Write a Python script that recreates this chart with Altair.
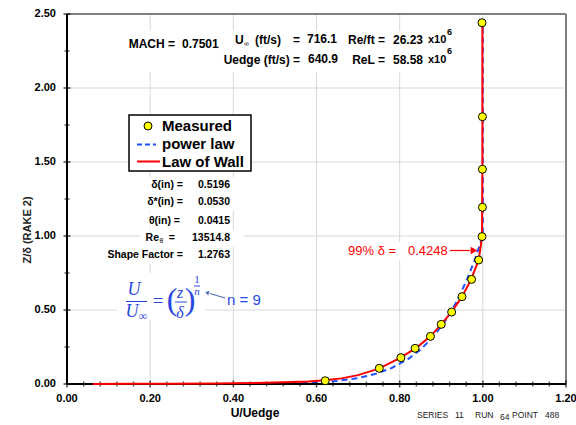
import altair as alt
import pandas as pd

# ---------------- data ----------------
meas_u = [0.621, 0.751, 0.803, 0.837, 0.874, 0.900, 0.925, 0.950, 0.973, 0.990, 0.998, 0.999, 0.999, 0.999, 0.998]
meas_z = [0.022, 0.106, 0.178, 0.241, 0.322, 0.403, 0.486, 0.590, 0.707, 0.838, 0.996, 1.194, 1.451, 1.806, 2.441]

pow_u = [0.42, 0.50, 0.56, 0.60, 0.65, 0.70, 0.74, 0.78, 0.82, 0.85, 0.88, 0.91, 0.935, 0.96, 0.98, 1.0, 1.0]
pow_z = [0.0004, 0.002, 0.0055, 0.010, 0.021, 0.040, 0.067, 0.107, 0.168, 0.232, 0.316, 0.428, 0.546, 0.693, 0.834, 1.0, 2.441]

wall_u = [0.062, 0.15, 0.25, 0.35, 0.45, 0.52, 0.58, 0.62, 0.66, 0.70, 0.75, 0.80, 0.84, 0.874, 0.90, 0.925, 0.95, 0.972, 0.99, 0.998, 0.999, 0.999]
wall_z = [0.0, 0.001, 0.002, 0.004, 0.007, 0.011, 0.017, 0.025, 0.038, 0.060, 0.104, 0.175, 0.244, 0.322, 0.403, 0.487, 0.590, 0.707, 0.838, 0.990, 1.5, 2.441]

x_major = [0.0, 0.2, 0.4, 0.6, 0.8, 1.0, 1.2]
x_labels = ["0.00", "0.20", "0.40", "0.60", "0.80", "1.00", "1.20"]
x_minor = [0.04, 0.08, 0.12, 0.16, 0.24, 0.28, 0.32, 0.36, 0.44, 0.48, 0.52, 0.56,
           0.64, 0.68, 0.72, 0.76, 0.84, 0.88, 0.92, 0.96, 1.04, 1.08, 1.12, 1.16]
y_major = [0.0, 0.5, 1.0, 1.5, 2.0, 2.5]
y_labels = ["0.00", "0.50", "1.00", "1.50", "2.00", "2.50"]
y_minor = [0.25, 0.75, 1.25, 1.75, 2.25]

# ---------------- layout ----------------
OX, OY = 67, 14
W, H = 499, 370
FONT = "Liberation Sans"
SERIF = "Liberation Serif"
BLUE = "#1f4fff"
FBLUE = "#2748e0"
GRID = "#d9d9d9"

xs = alt.Scale(domain=[0, 1.2], nice=False, zero=False)
ys = alt.Scale(domain=[0, 2.5], nice=False, zero=False)


def U(px):
    # page pixel -> U/Uedge (annotation placement only)
    return (px - OX) / W * 1.2


def Z(py):
    return (OY + H - py) / H * 2.5


def XE(field="u"):
    return alt.X(f"{field}:Q", scale=xs, axis=None)


def YE(field="z"):
    return alt.Y(f"{field}:Q", scale=ys, axis=None)


def series_df(u, z):
    return pd.DataFrame({"u": u, "z": z, "i": list(range(len(u)))})


def boxes(rows, stroke=None, sw=0):
    df = pd.DataFrame(rows, columns=["x1", "y1", "x2", "y2"])
    df["u"] = df["x1"].map(U); df["u2"] = df["x2"].map(U)
    df["z"] = df["y1"].map(Z); df["z2"] = df["y2"].map(Z)
    kw = dict(fill="white")
    if stroke:
        kw.update(stroke=stroke, strokeWidth=sw)
    else:
        kw.update(strokeWidth=0)
    return alt.Chart(df).mark_rect(**kw).encode(x=XE(), x2="u2:Q", y=YE(), y2="z2:Q")


def rules(rows, color, width, dash=None):
    df = pd.DataFrame(rows, columns=["x1", "y1", "x2", "y2"])
    df["u"] = df["x1"].map(U); df["u2"] = df["x2"].map(U)
    df["z"] = df["y1"].map(Z); df["z2"] = df["y2"].map(Z)
    kw = dict(color=color, strokeWidth=width)
    if dash:
        kw["strokeDash"] = dash
    return alt.Chart(df).mark_rule(**kw).encode(x=XE(), x2="u2:Q", y=YE(), y2="z2:Q")


def texts(rows, align="left", weight="bold", font=FONT, style="normal", color="black", angle=0):
    df = pd.DataFrame(rows, columns=["t", "x", "y", "fs"])
    df["u"] = df["x"].map(U)
    df["z"] = df["y"].map(Z)
    return alt.Chart(df).mark_text(align=align, baseline="middle", font=font, fontWeight=weight,
                                   fontStyle=style, color=color, angle=angle).encode(
        x=XE(), y=YE(), text="t:N", size=alt.Size("fs:Q", scale=None, legend=None))


def marker(x, y, **kw):
    df = pd.DataFrame({"u": [U(x)], "z": [Z(y)]})
    return alt.Chart(df).mark_point(opacity=1, **kw).encode(x=XE(), y=YE())


# ---------------- grid, axes ----------------
n_x, n_y = len(x_major), len(y_major)
grid_v = alt.Chart(pd.DataFrame({"u": x_major, "z": [0.0] * n_x, "z2": [2.5] * n_x})).mark_rule(
    color=GRID, strokeWidth=1).encode(x=XE(), y=YE(), y2="z2:Q")
grid_h = alt.Chart(pd.DataFrame({"z": y_major, "u": [0.0] * n_y, "u2": [1.2] * n_y})).mark_rule(
    color=GRID, strokeWidth=1).encode(x=XE(), x2="u2:Q", y=YE())
x_dom = alt.Chart(pd.DataFrame({"u": [0.0], "u2": [1.2], "z": [0.0]})).mark_rule(
    color="black", strokeWidth=2).encode(x=XE(), x2="u2:Q", y=YE())
y_dom = alt.Chart(pd.DataFrame({"u": [0.0], "z": [0.0], "z2": [2.5]})).mark_rule(
    color="black", strokeWidth=2).encode(x=XE(), y=YE(), y2="z2:Q")
frame = rules([(OX, OY, OX + W, OY), (OX + W, OY, OX + W, OY + H)], "#7f7f7f", 2)

xt_major = alt.Chart(pd.DataFrame({"u": x_major, "z": [0.0] * n_x})).mark_tick(
    orient="vertical", size=7, thickness=1.5, color="black").encode(x=XE(), y=YE())
xt_minor = alt.Chart(pd.DataFrame({"u": x_minor, "z": [0.0] * len(x_minor)})).mark_tick(
    orient="vertical", size=5, thickness=1.3, color="black").encode(x=XE(), y=YE())
yt_major = alt.Chart(pd.DataFrame({"z": y_major, "u": [0.0] * n_y})).mark_tick(
    orient="horizontal", size=7, thickness=1.5, color="black").encode(x=XE(), y=YE())
yt_minor = alt.Chart(pd.DataFrame({"z": y_minor, "u": [0.0] * len(y_minor)})).mark_tick(
    orient="horizontal", size=5, thickness=1.3, color="black").encode(x=XE(), y=YE())

x_lab = alt.Chart(pd.DataFrame({"u": x_major, "z": [Z(399)] * n_x, "t": x_labels})).mark_text(
    align="center", baseline="middle", font=FONT, fontWeight="bold", fontSize=11, color="black").encode(
    x=XE(), y=YE(), text="t:N")
y_lab = alt.Chart(pd.DataFrame({"z": y_major, "u": [U(56)] * n_y, "t": y_labels})).mark_text(
    align="right", baseline="middle", font=FONT, fontWeight="bold", fontSize=11, color="black").encode(
    x=XE(), y=YE(), text="t:N")
x_title = texts([("U/Uedge", 255, 413, 12)], align="center")
y_title = texts([("Z/δ (RAKE 2)", 28, 230, 11)], align="center", angle=270, color="#222222")

# ---------------- data layers ----------------
power = alt.Chart(series_df(pow_u, pow_z)).mark_line(color=BLUE, strokeWidth=2, strokeDash=[6, 4]).encode(
    x=XE(), y=YE(), order="i:Q")
wall = alt.Chart(series_df(wall_u, wall_z)).mark_line(color="#ff0000", strokeWidth=2).encode(
    x=XE(), y=YE(), order="i:Q")
meas = alt.Chart(series_df(meas_u, meas_z)).mark_point(filled=True, fill="#ffff00", stroke="black",
                                                        strokeWidth=1, size=64, opacity=1).encode(
    x=XE(), y=YE())

# ---------------- annotation backgrounds ----------------
white = boxes([
    (120, 31, 462, 72),
    (144, 177, 236, 194), (139, 194, 236, 211), (150, 212, 232, 229),
    (140, 230, 244, 247), (108, 247, 232, 264),
    (117, 273, 205, 320),
    (345, 242, 452, 260),
])
legend_box = boxes([(129, 115, 251, 171)], stroke="black", sw=1.5)

# ---------------- legend ----------------
leg_pt = marker(148, 126, filled=True, fill="#ffff00", stroke="black", strokeWidth=1, size=64)
leg_blue = rules([(137, 144.5, 156, 144.5)], BLUE, 2, [5, 3])
leg_red = rules([(137, 161.5, 160, 161.5)], "#ff0000", 2)
leg_txt = texts([("Measured", 162, 126, 15), ("power law", 162, 144, 15), ("Law of Wall", 162, 161.5, 15)])

# ---------------- header texts ----------------
head_left = texts([
    ("0.7501", 182, 43.5, 12), ("U", 235, 40, 12), ("(ft/s)", 255, 40, 12), ("716.1", 307, 39, 12),
    ("26.23", 393, 40, 12), ("640.9", 308, 58.5, 12), ("58.58", 393, 60, 12),
    ("x10", 428, 40, 11), ("x10", 428, 60, 11),
    ("6", 447, 32, 9), ("6", 447, 51, 9),
])
head_right = texts([
    ("MACH =", 175, 43.5, 12), ("=", 300, 40, 12), ("Re/ft =", 385, 40, 12),
    ("Uedge (ft/s) =", 300, 60, 12), ("ReL =", 385, 60, 12),
], align="right")
head_sub = texts([("∞", 244, 44, 7)], weight="normal")

# ---------------- boundary-layer parameters ----------------
stats_r = texts([
    ("δ(in) =", 183, 185, 10.5), ("0.5196", 230, 185, 10.5),
    ("δ*(in) =", 183, 202.3, 10.5), ("0.0530", 230, 202.3, 10.5),
    ("θ(in) =", 180, 221, 10.5), ("0.0415", 230, 221, 10.5),
    ("Re", 159, 238.3, 10.5), ("=", 175, 238.3, 10.5), ("13514.8", 230, 238.3, 10.5),
    ("Shape Factor =", 183, 255, 10.5), ("1.2763", 230, 255, 10.5),
], align="right")
stats_sub = texts([("θ", 159.5, 241, 6.5)], weight="normal")

# ---------------- 99% delta annotation ----------------
d99 = texts([("99% δ =", 348, 251, 13), ("0.4248", 408, 251, 13)], weight="normal", color="#ff0000")
d99_line = rules([(450, 250.5, 470, 250.5)], "#ff0000", 1.2)
d99_head = marker(474, 250.5, shape="triangle-right", filled=True, color="#ff0000", size=60)

# ---------------- power-law formula ----------------
f_it = texts([("U", 134, 290, 18), ("U", 132, 312, 18), ("z", 180, 293, 16), ("δ", 180, 313, 16),
              ("n", 197, 292, 11)], align="center", weight="normal", font=SERIF, style="italic", color=FBLUE)
f_up = texts([("=", 158, 301, 19), ("(", 172, 300, 32), (")", 190, 300, 32), ("1", 197, 280, 11),
              ("∞", 143, 316, 12)], align="center", weight="normal", font=SERIF, color=FBLUE)
f_bars = rules([(126, 301.5, 147, 301.5), (175, 302, 187, 302), (194, 286, 200, 286)], FBLUE, 1)
n_txt = texts([("n = 9", 227, 300, 15)], weight="normal", color=FBLUE)
n_line = rules([(225, 298, 210, 293.5)], "#4f6fb8", 1.2)
n_head = marker(207, 292.7, shape="triangle-left", angle=17, filled=True, color="#4f6fb8", size=22)

# ---------------- footer ----------------
footer = texts([("SERIES", 417, 415, 8.5), ("11", 455, 415, 8.5), ("RUN", 475, 415, 8.5),
                ("64", 500, 417, 8.5), ("POINT", 512, 415, 8.5), ("488", 545, 415, 8.5)],
               weight="normal", color="#222222")

chart = alt.layer(
    grid_v, grid_h, frame, white, power, x_dom, y_dom,
    xt_minor, xt_major, yt_minor, yt_major, x_lab, y_lab, x_title, y_title,
    wall, meas,
    legend_box, leg_pt, leg_blue, leg_red, leg_txt,
    head_left, head_right, head_sub, stats_r, stats_sub,
    d99, d99_line, d99_head,
    f_it, f_up, f_bars, n_txt, n_line, n_head, footer,
).properties(
    width=W, height=H,
    padding={"left": OX, "top": OY, "right": 576 - OX - W, "bottom": 425 - OY - H},
    autosize=alt.AutoSizeParams(type="none"),
    background="white",
).configure_view(stroke=None)

chart.save("out.html", embed_options={"renderer": "svg", "actions": False})
